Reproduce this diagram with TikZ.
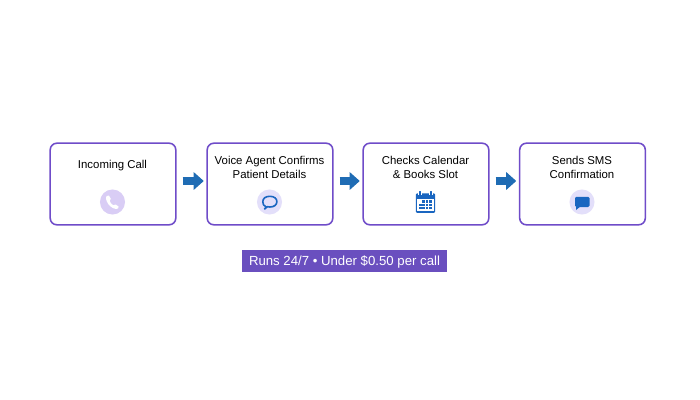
\documentclass[tikz,border=0pt]{standalone}
\usepackage{fontspec}
\setmainfont{Liberation Sans}
\usetikzlibrary{arrows.meta}
\definecolor{boxline}{HTML}{6F4CC9}
\definecolor{flow}{HTML}{1F6CB4}
\definecolor{pill}{HTML}{6A4FBF}
\definecolor{lilac}{HTML}{D9CDF5}
\definecolor{pale}{HTML}{E3DFFA}
\definecolor{iconblue}{HTML}{1A66C0}
\tikzset{
  stepbox/.style={draw=boxline,line width=1.15pt,rounded corners=5pt,fill=white,minimum width=94.2pt,minimum height=61.2pt,inner sep=0pt},
  label/.style={font=\fontsize{8.55pt}{10pt}\selectfont,align=center,text=black,inner sep=0pt},
  flowarrow/.style={draw=flow,line width=6.6pt,-{Triangle[length=7.6pt,width=13pt]},shorten <=4.6pt,shorten >=2pt},
  disc/.style={circle,minimum size=18.8pt,inner sep=0pt},
  banner/.style={fill=pill,text=white,minimum width=153.8pt,minimum height=16.5pt,inner sep=0pt,font=\fontsize{9.9pt}{11pt}\selectfont}
}
\begin{document}
\begin{tikzpicture}[x=0.75pt,y=-0.75pt]
\useasboundingbox (0,0) rectangle (700,400);
\fill[white] (0,0) rectangle (700,400);
\node[stepbox] (a) at (113,184) {};
\node[stepbox] (b) at (270,184) {};
\node[stepbox] (c) at (426,184) {};
\node[stepbox] (d) at (582.5,184) {};
\coordinate (ay) at (0,181);
\draw[flowarrow] (a.east |- ay) -- (b.west |- ay);
\draw[flowarrow] (b.east |- ay) -- (c.west |- ay);
\draw[flowarrow] (c.east |- ay) -- (d.west |- ay);
\node[label] (ta) at (112.5,165.8) {Incoming Call};
\node[label] (tb) at (269.5,167.5) {Voice Agent Confirms\\[1.0pt]Patient Details};
\node[label] (tc) at (425.5,167.5) {Checks Calendar\\[1.0pt]\& Books Slot};
\node[label] (td) at (582,167.5) {Sends SMS\\[1.0pt]Confirmation};
\node[banner] (note) at (344.5,261) {\raisebox{-3.6pt}[0pt][0pt]{Runs 24/7 • Under \$0.50 per call}};
% phone
\node[disc,fill=lilac] (ia) at (112.5,202) {};
\fill[white] (106.8,195.8) .. controls (107.6,195) and (108.5,195) .. (109,195.7)
  -- (110.8,198.8) .. controls (111.1,199.5) and (110.6,200.1) .. (109.7,200.9)
  .. controls (110.3,202.7) and (111.6,204.3) .. (113.3,205.3)
  .. controls (114.2,204.5) and (114.9,204.1) .. (115.7,204.5)
  -- (118.6,206.6) .. controls (119.2,207.2) and (118.9,208) .. (118,208.6)
  .. controls (115.4,209.8) and (111,207.8) .. (108.4,204.2)
  .. controls (106,200.8) and (105.4,197.4) .. (106.8,195.8) -- cycle;
% outline bubble
\node[disc,fill=pale] (ib) at (269.5,202) {};
\draw[iconblue,line width=1.2pt,line join=round]
  (266,207) .. controls (263.4,205.8) and (262.8,203.6) .. (262.8,201.7)
  .. controls (262.8,198.4) and (265.6,196.3) .. (269.8,196.3)
  .. controls (274,196.3) and (276.9,198.4) .. (276.9,201.6)
  .. controls (276.9,204.9) and (274,207) .. (270,207)
  .. controls (269,207) and (268.2,206.9) .. (267.4,206.7)
  -- (264.6,209) -- cycle;
% calendar
\fill[iconblue,rounded corners=0.8pt] (415.8,193.4) rectangle (435.2,212.8);
\fill[white] (417.2,199) rectangle (433.8,211.4);
\fill[white] (418.4,191.6) rectangle (421.6,194.8);
\fill[white] (429.4,191.6) rectangle (432.6,194.8);
\fill[iconblue,rounded corners=0.4pt] (419.2,191) rectangle (420.8,195.4);
\fill[iconblue,rounded corners=0.4pt] (430.2,191) rectangle (431.8,195.4);
\foreach \cx in {422.4,425.7,429}{\fill[iconblue] (\cx,200.2) rectangle +(2.5,2.5);}
\foreach \cx in {419.1,422.4,425.7,429}{\fill[iconblue] (\cx,203.5) rectangle +(2.5,2.5);}
\foreach \cx in {419.1,422.4,425.7,429}{\fill[iconblue] (\cx,206.8) rectangle +(2.5,2.5);}
% filled bubble
\node[disc,fill=pale] (id) at (582,202) {};
\fill[iconblue,rounded corners=1pt] (575,196.8) rectangle (589.5,207);
\fill[iconblue] (576,206) -- (576,210) -- (581,206) -- cycle;
\end{tikzpicture}
\end{document}
